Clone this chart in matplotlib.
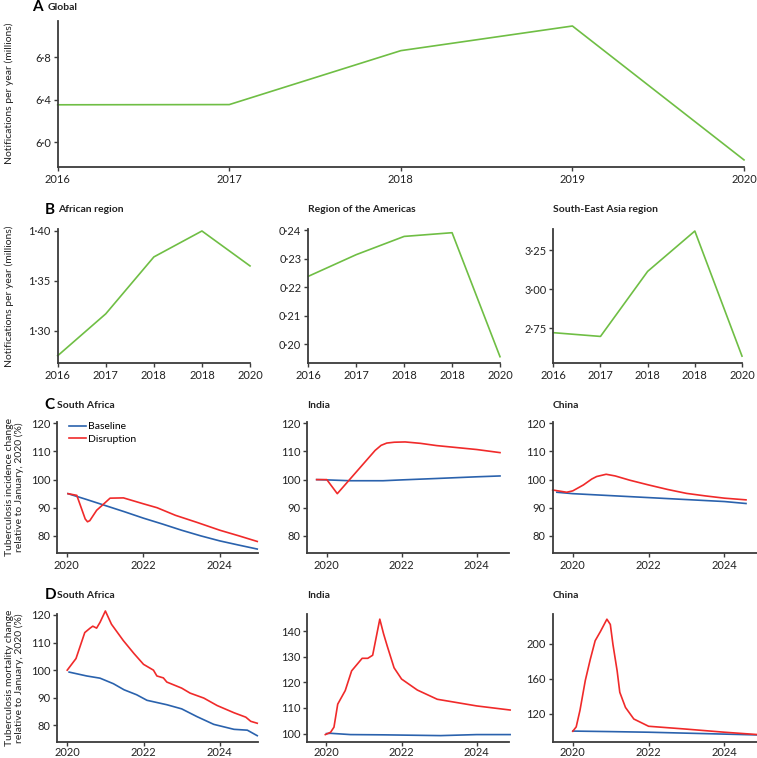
import matplotlib
matplotlib.use("Agg")
import matplotlib.pyplot as plt
from matplotlib.ticker import FuncFormatter

plt.rcParams['font.family'] = ['Lato', 'DejaVu Sans']

GREEN = "#6fbe44"
BLUE = "#2a62ad"
RED = "#f02a2a"
SPINE = "#3c3c3c"

# Panel A - global notifications (millions)
global_years = [2016, 2017, 2018, 2019, 2020]
global_notif = [6.353, 6.355, 6.863, 7.095, 5.834]

# Panel B - regional notifications (millions)
region_labels = ["2016", "2017", "2018", "2018", "2020"]
african = [1.275, 1.317, 1.374, 1.400, 1.365]
americas = [0.2239, 0.2315, 0.2379, 0.2392, 0.1957]
se_asia = [2.722, 2.698, 3.114, 3.372, 2.572]

# Panel C - incidence relative to January 2020 (%)
c_sa_base_t = [2020.03, 2020.5, 2021.0, 2021.5, 2022.0, 2022.5, 2023.0, 2023.5, 2024.0, 2024.5, 2024.98]
c_sa_base_v = [95.0, 93.0, 90.8, 88.6, 86.3, 84.2, 82.0, 80.0, 78.2, 76.7, 75.3]
c_sa_dis_t = [2020.03, 2020.26, 2020.48, 2020.54, 2020.6, 2020.78, 2020.92, 2021.13, 2021.48,
              2022.0, 2022.36, 2022.84, 2023.4, 2024.0, 2024.5, 2024.98]
c_sa_dis_v = [95.0, 94.4, 86.0, 85.0, 85.4, 89.1, 90.8, 93.4, 93.5,
              91.4, 90.0, 87.3, 84.8, 82.0, 80.0, 78.0]

c_in_base_t = [2019.73, 2020.0, 2020.62, 2021.5, 2022.0, 2022.93, 2024.0, 2024.62]
c_in_base_v = [100.0, 99.9, 99.6, 99.6, 99.9, 100.4, 101.0, 101.3]
c_in_dis_t = [2019.73, 2020.0, 2020.28, 2021.29, 2021.45, 2021.6, 2021.8, 2022.09, 2022.5,
              2022.93, 2024.0, 2024.62]
c_in_dis_v = [100.0, 100.0, 95.0, 110.4, 112.2, 113.0, 113.3, 113.4, 112.9,
              112.1, 110.7, 109.6]

c_cn_base_t = [2019.58, 2020.0, 2022.0, 2024.0, 2024.57]
c_cn_base_v = [95.5, 95.0, 93.6, 92.2, 91.5]
c_cn_dis_t = [2019.47, 2019.84, 2020.0, 2020.28, 2020.5, 2020.63, 2020.88, 2021.12, 2021.5,
              2022.0, 2022.5, 2023.0, 2023.5, 2024.0, 2024.57]
c_cn_dis_v = [96.3, 95.5, 96.0, 98.1, 100.2, 101.1, 101.9, 101.3, 99.8,
              98.1, 96.5, 95.1, 94.2, 93.4, 92.8]

# Panel D - mortality relative to January 2020 (%)
d_sa_base_t = [2020.05, 2020.51, 2020.86, 2021.21, 2021.49, 2021.82, 2022.09, 2022.61, 2023.0,
               2023.4, 2023.84, 2024.37, 2024.72, 2024.98]
d_sa_base_v = [99.3, 97.9, 97.1, 95.1, 92.9, 91.1, 89.1, 87.5, 86.0,
               83.2, 80.4, 78.6, 78.3, 76.3]
d_sa_dis_t = [2020.0, 2020.23, 2020.46, 2020.6, 2020.67, 2020.77, 2020.86, 2021.0, 2021.16,
              2021.47, 2021.75, 2022.0, 2022.26, 2022.35, 2022.52, 2022.61, 2023.0, 2023.22,
              2023.58, 2023.93, 2024.37, 2024.68, 2024.81, 2024.98]
d_sa_dis_v = [100.0, 104.2, 113.6, 115.2, 115.9, 115.2, 117.3, 121.4, 116.6,
              110.7, 106.0, 102.1, 100.0, 97.9, 97.2, 95.7, 93.5, 91.7,
              89.9, 87.2, 84.6, 83.0, 81.5, 80.8]

d_in_base_t = [2020.0, 2020.11, 2020.64, 2021.53, 2023.04, 2024.0, 2024.89]
d_in_base_v = [100.0, 100.1, 99.6, 99.5, 99.2, 99.6, 99.6]
d_in_dis_t = [2019.97, 2020.11, 2020.2, 2020.3, 2020.5, 2020.67, 2020.95, 2021.1, 2021.23,
              2021.42, 2021.52, 2021.62, 2021.8, 2022.0, 2022.42, 2022.95, 2024.0, 2024.89]
d_in_dis_v = [99.6, 100.5, 102.5, 111.5, 116.8, 124.5, 129.4, 129.4, 130.6,
              144.7, 139.0, 134.1, 125.7, 121.3, 117.0, 113.4, 110.8, 109.2]

d_cn_base_t = [2020.0, 2021.0, 2022.0, 2023.39, 2024.88]
d_cn_base_v = [100.2, 99.6, 98.9, 97.4, 95.8]
d_cn_dis_t = [2020.0, 2020.09, 2020.19, 2020.33, 2020.46, 2020.59, 2020.73, 2020.9, 2020.99,
              2021.06, 2021.17, 2021.24, 2021.39, 2021.61, 2022.0, 2022.95, 2024.0, 2024.88]
d_cn_dis_v = [100.0, 105.0, 124.0, 158.0, 181.9, 203.4, 214.0, 228.0, 222.0,
              199.0, 169.0, 144.5, 127.2, 114.0, 105.7, 102.6, 98.9, 96.2]

W, H = 757, 758


def px_axes(fig, x0, y0, x1, y1):
    # pixel box (top-left origin) -> figure axes
    return fig.add_axes([x0 / W, 1 - y1 / H, (x1 - x0) / W, (y1 - y0) / H])


def style(ax, fs=8):
    for s in ["top", "right"]:
        ax.spines[s].set_visible(False)
    for s in ["left", "bottom"]:
        ax.spines[s].set_color(SPINE)
        ax.spines[s].set_linewidth(1.3)
    ax.tick_params(length=3, width=1, color=SPINE, labelsize=fs, pad=2, labelcolor="#222222")


def dot_fmt(nd):
    return FuncFormatter(lambda v, p: f"{v:.{nd}f}".replace(".", "\u00b7"))


def ylabel_at(ax, text, x_px, x0, x1, fs=7.5):
    # x_px is where the right edge of the rotated label sits, in figure pixels
    ax.set_ylabel(text, fontsize=fs, linespacing=1.1, color="#222222")
    ax.yaxis.set_label_coords((x_px - x0) / (x1 - x0), 0.5)


def panel_title(fig, x, y, text, letter=None):
    if letter:
        fig.text((x - 13) / W, 1 - y / H, letter, fontsize=11, fontweight="bold", va="center", ha="left")
    fig.text(x / W, 1 - y / H, text, fontsize=7.5, fontweight="bold", va="center", ha="left", color="#222222")


def main():
    fig = plt.figure(figsize=(W / 100, H / 100), dpi=100)

    # A
    ax = px_axes(fig, 57.7, 20.7, 744, 166.7)
    style(ax)
    ax.plot(global_years, global_notif, color=GREEN, lw=1.2, clip_on=False)
    ax.set_xlim(2016, 2020)
    ax.set_ylim(5.77, 7.145)
    ax.set_xticks(global_years)
    ax.set_yticks([6.0, 6.4, 6.8])
    ax.yaxis.set_major_formatter(dot_fmt(1))
    ylabel_at(ax, "Notifications per year (millions)", 14, 57.7, 744)
    fig.text(32 / W, 1 - 7 / H, "A", fontsize=11, fontweight="bold", va="center")
    fig.text(48 / W, 1 - 7 / H, "Global", fontsize=7.5, fontweight="bold", va="center", color="#222222")

    # B
    regions = [
        (57.7, 250, african, (1.268, 1.402), [1.30, 1.35, 1.40], "African region", "B"),
        (308.3, 500, americas, (0.1936, 0.2405), [0.20, 0.21, 0.22, 0.23, 0.24], "Region of the Americas", None),
        (553.3, 742, se_asia, (2.53, 3.385), [2.75, 3.00, 3.25], "South-East Asia region", None),
    ]
    for x0, x1, vals, ylim, yt, title, letter in regions:
        ax = px_axes(fig, x0, 229, x1, 362.7)
        style(ax)
        ax.plot(range(len(vals)), vals, color=GREEN, lw=1.2, clip_on=False)
        ax.set_xlim(0, len(vals) - 1)
        ax.set_ylim(*ylim)
        ax.set_xticks(range(len(vals)))
        ax.set_xticklabels(region_labels)
        ax.set_yticks(yt)
        ax.yaxis.set_major_formatter(dot_fmt(2))
        if letter:
            ylabel_at(ax, "Notifications per year (millions)", 14, x0, x1)
        panel_title(fig, x0, 210, title, letter)

    # C and D
    rows = [
        (421.7, 552.7, 405, "C", "Tuberculosis incidence change\nrelative to January, 2020 (%)", [
            (57.3, 258, (2019.75, 2025.0), (74, 120.6), [80, 90, 100, 110, 120], "South Africa",
             c_sa_base_t, c_sa_base_v, c_sa_dis_t, c_sa_dis_v),
            (307.3, 509, (2019.48, 2024.86), (74, 120.6), [80, 90, 100, 110, 120], "India",
             c_in_base_t, c_in_base_v, c_in_dis_t, c_in_dis_v),
            (552.7, 757, (2019.47, 2024.86), (74, 120.6), [80, 90, 100, 110, 120], "China",
             c_cn_base_t, c_cn_base_v, c_cn_dis_t, c_cn_dis_v),
        ]),
        (614.3, 741.5, 595, "D", "Tuberculosis mortality change\nrelative to January, 2020 (%)", [
            (57.3, 258, (2019.74, 2025.0), (74.2, 120.2), [80, 90, 100, 110, 120], "South Africa",
             d_sa_base_t, d_sa_base_v, d_sa_dis_t, d_sa_dis_v),
            (307.3, 509, (2019.49, 2024.86), (96.9, 146.6), [100, 110, 120, 130, 140], "India",
             d_in_base_t, d_in_base_v, d_in_dis_t, d_in_dis_v),
            (552.7, 757, (2019.47, 2024.86), (88.3, 233.6), [120, 160, 200], "China",
             d_cn_base_t, d_cn_base_v, d_cn_dis_t, d_cn_dis_v),
        ]),
    ]
    for top, bottom, ty, letter, ylabel, panels in rows:
        for i, (x0, x1, xlim, ylim, yt, title, bt, bv, dt, dv) in enumerate(panels):
            ax = px_axes(fig, x0, top, x1, bottom)
            style(ax)
            lb, = ax.plot(bt, bv, color=BLUE, lw=1.2, clip_on=False)
            ld, = ax.plot(dt, dv, color=RED, lw=1.2, clip_on=False)
            ax.set_xlim(*xlim)
            ax.set_ylim(*ylim)
            ax.set_xticks([2020, 2022, 2024])
            ax.set_yticks(yt)
            if letter == "D":
                ax.tick_params(axis="x", pad=1)
            panel_title(fig, x0, ty, title, letter if i == 0 else None)
            if i == 0:
                ylabel_at(ax, ylabel, 24, x0, x1)
                if letter == "C":
                    ax.legend([lb, ld], ["Baseline", "Disruption"], loc="upper left", frameon=False,
                              fontsize=7.5, handlelength=1.6, handletextpad=0.2, labelspacing=0.3,
                              borderaxespad=0, bbox_to_anchor=(0.04, 1.03))

    fig.savefig("out.png", dpi=100)


if __name__ == "__main__":
    main()
